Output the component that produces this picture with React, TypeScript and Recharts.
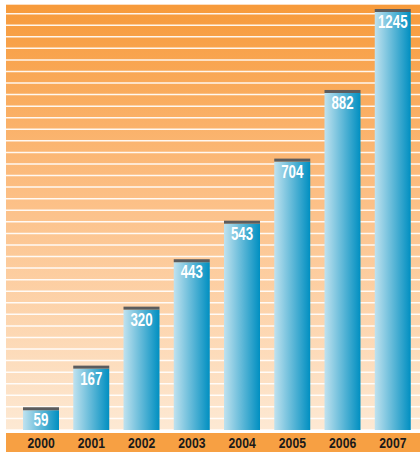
import { BarChart, Bar, XAxis, YAxis, CartesianGrid } from "recharts";

const years = ["2000", "2001", "2002", "2003", "2004", "2005", "2006", "2007"];
const values = [59, 167, 320, 443, 543, 704, 882, 1245];

// background stripes every 30 units, axis stops short of the tallest bar
const STRIPE_STEP = 30;
const stripeTicks = Array.from({ length: 37 }, (_, i) => i * STRIPE_STEP);
const Y_MAX = 1105;

const data = years.map((year, i) => ({ year, value: values[i] }));

const FONT = '"Liberation Sans", Arial, sans-serif';

function CappedBar(props: any) {
  const { x, y, width, height, value, background } = props;
  const bottom = y + height;
  const top = Math.max(y, (background?.y ?? 0) + 5);
  const cx = x + width / 2;
  return (
    <g>
      <rect x={x} y={top + 3} width={width} height={Math.max(bottom - top - 3, 0)} fill="url(#barGrad)" />
      <rect x={x} y={top} width={width} height={3} fill="#5b5c5e" />
      <text
        transform={`translate(${cx},${top + 19}) scale(0.72,1)`}
        textAnchor="middle"
        fill="#ffffff"
        fontFamily={FONT}
        fontWeight="bold"
        fontSize={18.5}
      >
        {value}
      </text>
    </g>
  );
}

function YearTick(props: any) {
  const { x, y, payload } = props;
  return (
    <text
      transform={`translate(${x},${y + 10}) scale(0.84,1)`}
      textAnchor="middle"
      fill="#1a1a1a"
      fontFamily={FONT}
      fontWeight="bold"
      fontSize={14.5}
    >
      {payload.value}
    </text>
  );
}

export default function App() {
  return (
    <div style={{ position: "absolute", left: 0, top: 0, width: 420, height: 452, background: "#fff" }}>
      <div
        style={{ position: "absolute", left: 6, top: 433, width: 414, height: 19, background: "#f7a043" }}
      />
      <div style={{ position: "absolute", left: 0, top: 0 }}>
        <BarChart
          width={420}
          height={452}
          data={data}
          margin={{ top: 4, right: 0, bottom: 2, left: 6 }}
          barCategoryGap={0}
        >
          <defs>
            <linearGradient id="bgGrad" x1="0" y1="0" x2="0" y2="1">
              <stop offset="0%" stopColor="#f79a3a" />
              <stop offset="45%" stopColor="#fcbf85" />
              <stop offset="100%" stopColor="#fde9d4" />
            </linearGradient>
            <linearGradient id="barGrad" x1="0" y1="0" x2="1" y2="0">
              <stop offset="0%" stopColor="#c0e2ef" />
              <stop offset="100%" stopColor="#008fc1" />
            </linearGradient>
          </defs>
          <CartesianGrid
            vertical={false}
            fill="url(#bgGrad)"
            fillOpacity={1}
            stroke="#ffffff"
            strokeOpacity={0.9}
            strokeWidth={1.5}
          />
          <XAxis
            dataKey="year"
            height={20}
            axisLine={false}
            tickLine={false}
            padding={{ left: 10, right: 2 }}
            tick={YearTick}
            interval={0}
          />
          <YAxis hide domain={[0, Y_MAX]} ticks={stripeTicks} interval={0} allowDataOverflow />
          <Bar dataKey="value" barSize={36} shape={CappedBar} isAnimationActive={false} />
        </BarChart>
      </div>
    </div>
  );
}
